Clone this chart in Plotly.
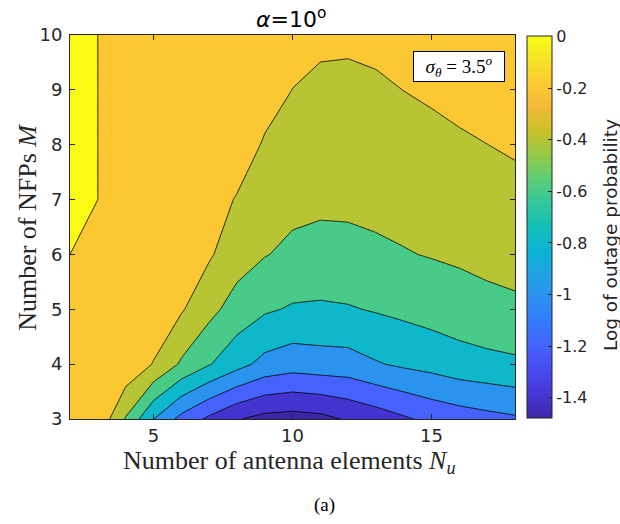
import numpy as np
import plotly.graph_objects as go

# Grid: number of antenna elements N_u (columns) and number of NFPs M (rows)
n_u = list(range(2, 19))
m_nfp = list(range(3, 11))

# Log10 outage probability for M = 3..10, one list per N_u
logp_n02 = [-0.030, -0.020, -0.010, 0.000, 0.000, 0.000, 0.000, 0.000]
logp_n03 = [-0.040, -0.030, -0.020, -0.010, 0.000, 0.000, 0.000, 0.000]
logp_n04 = [-0.415, -0.050, -0.040, -0.030, -0.025, -0.020, -0.020, -0.015]
logp_n05 = [-0.796, -0.210, -0.060, -0.045, -0.035, -0.030, -0.025, -0.020]
logp_n06 = [-1.061, -0.427, -0.180, -0.120, -0.080, -0.050, -0.040, -0.030]
logp_n07 = [-1.239, -0.587, -0.341, -0.177, -0.120, -0.080, -0.050, -0.030]
logp_n08 = [-1.386, -0.730, -0.485, -0.310, -0.212, -0.103, -0.050, -0.030]
logp_n09 = [-1.462, -0.860, -0.574, -0.391, -0.307, -0.218, -0.129, -0.080]
logp_n10 = [-1.480, -0.910, -0.620, -0.440, -0.350, -0.275, -0.2015, -0.150]
logp_n11 = [-1.456, -0.886, -0.630, -0.450, -0.370, -0.304, -0.235, -0.166]
logp_n12 = [-1.379, -0.880, -0.615, -0.450, -0.365, -0.305, -0.238, -0.171]
logp_n13 = [-1.308, -0.816, -0.585, -0.430, -0.355, -0.292, -0.225, -0.158]
logp_n14 = [-1.228, -0.768, -0.555, -0.410, -0.339, -0.269, -0.1986, -0.128]
logp_n15 = [-1.150, -0.733, -0.520, -0.390, -0.319, -0.247, -0.176, -0.104]
logp_n16 = [-1.100, -0.683, -0.490, -0.370, -0.300, -0.224, -0.148, -0.073]
logp_n17 = [-1.060, -0.660, -0.446, -0.357, -0.280, -0.201, -0.120, -0.040]
logp_n18 = [-1.027, -0.635, -0.429, -0.342, -0.260, -0.176, -0.092, -0.020]

columns = [logp_n02, logp_n03, logp_n04, logp_n05, logp_n06, logp_n07,
           logp_n08, logp_n09, logp_n10, logp_n11, logp_n12, logp_n13,
           logp_n14, logp_n15, logp_n16, logp_n17, logp_n18]
z = np.array(columns).T  # rows follow M, columns follow N_u

# Contour levels and colour limits
level_start, level_end, level_step = -1.4, 0.0, 0.2
c_min, c_max = -1.48, 0.0
cbar_tickvals = [-1.4, -1.2, -1.0, -0.8, -0.6, -0.4, -0.2, 0.0]
cbar_ticktext = ["-1.4", "-1.2", "-1", "-0.8", "-0.6", "-0.4", "-0.2", "0"]

# Parula colour map, every 16th entry of the 256-colour table
parula_idx = [0, 16, 32, 48, 64, 80, 96, 112, 128, 144, 160, 176, 192, 208, 224, 240, 255]
parula_rgb = [
    (0.2422, 0.1504, 0.6603), (0.2704, 0.2138, 0.8346), (0.2813, 0.2985, 0.9397),
    (0.2710, 0.3860, 0.9898), (0.2006, 0.4803, 0.9906), (0.1716, 0.5655, 0.9393),
    (0.1288, 0.6408, 0.8910), (0.0433, 0.7039, 0.8242), (0.0770, 0.7468, 0.7224),
    (0.2061, 0.7808, 0.6065), (0.3671, 0.8021, 0.4563), (0.5886, 0.7913, 0.2833),
    (0.7945, 0.7554, 0.1570), (0.9523, 0.7284, 0.2237), (0.9938, 0.7974, 0.1974),
    (0.9601, 0.8963, 0.1507), (0.9769, 0.9839, 0.0805),
]
parula_pos = [i / 255 for i in parula_idx]


def to_css(rgb):
    return "rgb(%d,%d,%d)" % tuple(int(round(255 * c)) for c in rgb)


def parula_at(value):
    t = (value - c_min) / (c_max - c_min)
    t = min(max(t, 0.0), 1.0)
    chans = np.array(parula_rgb)
    return to_css([np.interp(t, parula_pos, chans[:, k]) for k in range(3)])


parula_scale = [[p, to_css(c)] for p, c in zip(parula_pos, parula_rgb)]

# Filled bands take the colour of their lower level; the lowest band uses c_min
levels = list(np.arange(level_start, level_end + level_step / 2, level_step))
band_colors = [parula_at(c_min)] + [parula_at(v) for v in levels]
n_lev = len(levels)
band_scale = []
for k, col in enumerate(band_colors):
    lo = 0.0 if k == 0 else (k - 1) / n_lev + 0.5 / n_lev
    hi = 1.0 if k == len(band_colors) - 1 else k / n_lev + 0.5 / n_lev
    band_scale.append([lo, col])
    band_scale.append([hi, col])

# Tiny shift so cells equal to 0 fall in the top band
eps = 1e-6

fig = go.Figure()
fig.add_trace(go.Contour(
    x=n_u, y=m_nfp, z=z,
    autocontour=False,
    contours=dict(start=level_start - eps, end=level_end - eps, size=level_step,
                  coloring="fill", showlines=True),
    line=dict(color="black", width=0.8, smoothing=0),
    colorscale=band_scale, showscale=False, hoverinfo="skip",
))

# Continuous colour bar
fig.add_trace(go.Scatter(
    x=[None], y=[None], mode="markers", showlegend=False, hoverinfo="skip",
    marker=dict(
        color=[c_min], cmin=c_min, cmax=c_max, colorscale=parula_scale, showscale=True,
        colorbar=dict(
            x=1.0263, xanchor="left", xpad=0, y=0.4987, yanchor="middle", ypad=0,
            len=0.994, lenmode="fraction", thickness=25,
            outlinewidth=1, outlinecolor="#262626",
            tickvals=cbar_tickvals, ticktext=cbar_ticktext,
            ticks="inside", ticklen=4, tickcolor="#262626",
            tickfont=dict(family="DejaVu Sans", size=16, color="#262626"),
        ),
    ),
))

axis_common = dict(
    showgrid=False, zeroline=False, showline=True, linecolor="#262626", linewidth=1,
    mirror="ticks", ticks="inside", ticklen=5, tickwidth=1, tickcolor="#262626",
    tickfont=dict(family="DejaVu Sans", size=18, color="#262626"),
)
fig.update_xaxes(range=[2, 18], tickvals=[5, 10, 15], **axis_common)
fig.update_yaxes(range=[3, 10], tickvals=m_nfp, ticklabelstandoff=3, **axis_common)

serif = "Liberation Serif"
fig.update_layout(
    width=620, height=524,
    margin=dict(l=70, r=105, t=35, b=105),
    paper_bgcolor="white", plot_bgcolor="white",
    showlegend=False,
    annotations=[
        dict(text="<i>α</i>=10<sup>o</sup>", x=0.496, y=1.043, xref="paper", yref="paper",
             showarrow=False, xanchor="center", yanchor="middle",
             font=dict(family="DejaVu Sans", size=22, color="black")),
        dict(text="Number of NFPs <i>M</i>", x=-0.097, y=0.5, xref="paper", yref="paper",
             textangle=-90, showarrow=False, xanchor="center", yanchor="middle",
             font=dict(family=serif, size=26, color="#262626")),
        dict(text="Number of antenna elements <i>N<sub>u</sub></i>", x=0.494, y=-0.112,
             xref="paper", yref="paper", showarrow=False, xanchor="center", yanchor="middle",
             font=dict(family=serif, size=26, color="#262626")),
        dict(text="(a)", x=0.571, y=-0.224, xref="paper", yref="paper",
             showarrow=False, xanchor="center", yanchor="middle",
             font=dict(family=serif, size=19, color="black")),
        dict(text="Log of outage probability", x=1.2135, y=0.479, xref="paper", yref="paper",
             textangle=-90, showarrow=False, xanchor="center", yanchor="middle",
             font=dict(family="DejaVu Sans", size=18.5, color="#262626")),
        dict(text="<i>σ<sub>θ</sub></i> = 3.5<sup><i>o</i></sup>", x=0.8746, y=0.9167,
             xref="paper", yref="paper", showarrow=False, xanchor="center", yanchor="middle",
             width=86, height=25, borderpad=2, borderwidth=1, bordercolor="black",
             bgcolor="white", font=dict(family=serif, size=19, color="black")),
    ],
)

fig.write_html("out.html")
